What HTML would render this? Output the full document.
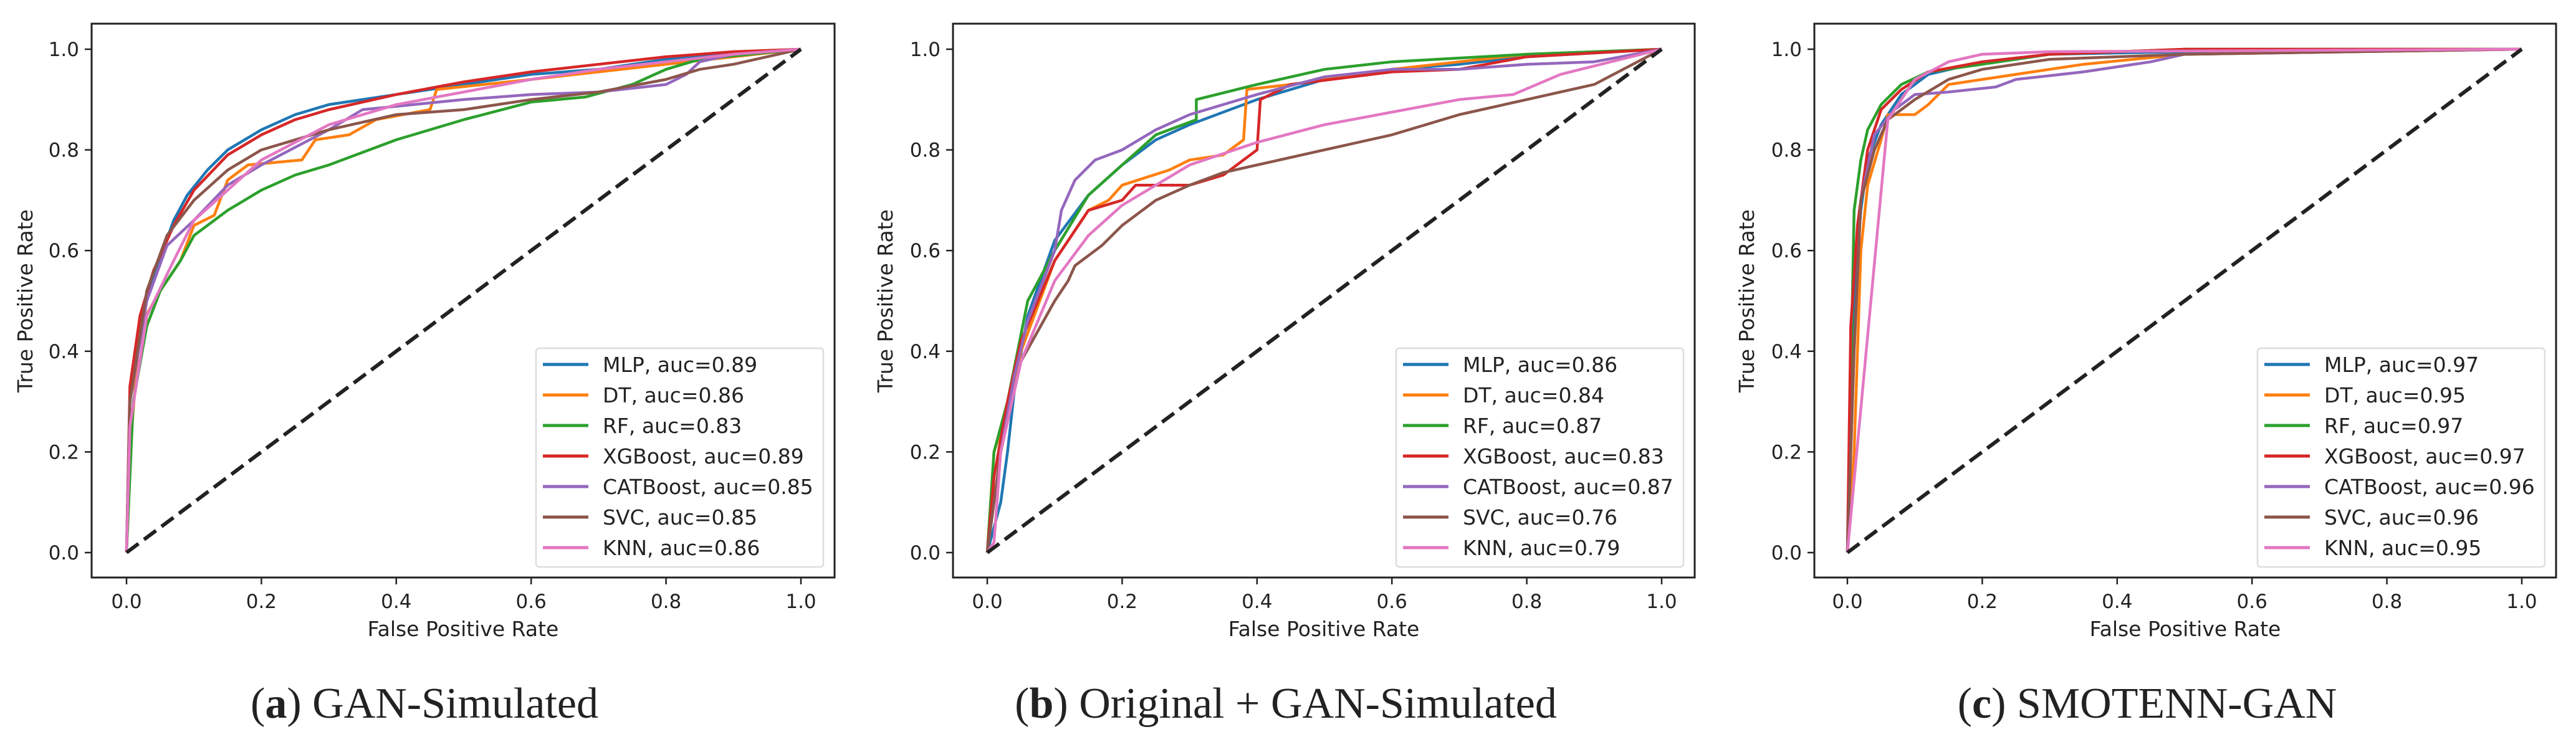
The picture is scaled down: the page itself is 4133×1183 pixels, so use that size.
<!DOCTYPE html>
<html><head><meta charset="utf-8"><style>
html,body{margin:0;padding:0;background:#fff;}
svg{display:block;}
</style></head><body>
<svg id="fig" width="4133" height="1183" xmlns="http://www.w3.org/2000/svg"></svg>
<script>
const seriesNames = ["MLP","DT","RF","XGBoost","CATBoost","SVC","KNN"];
const seriesColors = ["#1f77b4","#ff7f0e","#2ca02c","#d62728","#9467bd","#8c564b","#e377c2"];
const tickLabels = ["0.0","0.2","0.4","0.6","0.8","1.0"];
const tickValues = [0,0.2,0.4,0.6,0.8,1.0];

const aucA = ["0.89","0.86","0.83","0.89","0.85","0.85","0.86"];
const aucB = ["0.86","0.84","0.87","0.83","0.87","0.76","0.79"];
const aucC = ["0.97","0.95","0.97","0.97","0.96","0.96","0.95"];

const rocA = [
 [[0,0],[0.005,0.3],[0.02,0.45],[0.04,0.55],[0.07,0.66],[0.09,0.71],[0.12,0.76],[0.15,0.8],[0.2,0.84],[0.25,0.87],[0.3,0.89],[0.4,0.91],[0.5,0.93],[0.6,0.95],[0.7,0.96],[0.8,0.98],[0.9,0.99],[1,1]],
 [[0,0],[0.005,0.2],[0.02,0.45],[0.05,0.52],[0.08,0.58],[0.1,0.65],[0.13,0.67],[0.15,0.74],[0.18,0.77],[0.26,0.78],[0.28,0.82],[0.33,0.83],[0.37,0.86],[0.45,0.88],[0.46,0.92],[0.6,0.94],[0.8,0.97],[1,1]],
 [[0,0],[0.01,0.3],[0.03,0.45],[0.05,0.52],[0.08,0.58],[0.1,0.63],[0.15,0.68],[0.2,0.72],[0.25,0.75],[0.3,0.77],[0.4,0.82],[0.5,0.86],[0.6,0.895],[0.68,0.905],[0.75,0.93],[0.8,0.96],[0.85,0.98],[1,1]],
 [[0,0],[0.005,0.33],[0.02,0.47],[0.04,0.56],[0.07,0.65],[0.1,0.72],[0.15,0.79],[0.2,0.83],[0.25,0.86],[0.3,0.88],[0.4,0.91],[0.5,0.935],[0.6,0.955],[0.7,0.97],[0.8,0.985],[0.9,0.995],[1,1]],
 [[0,0],[0.005,0.3],[0.03,0.5],[0.06,0.61],[0.1,0.66],[0.15,0.73],[0.2,0.77],[0.3,0.84],[0.35,0.88],[0.5,0.9],[0.6,0.91],[0.7,0.915],[0.8,0.93],[0.83,0.95],[0.85,0.975],[0.9,0.99],[1,1]],
 [[0,0],[0.005,0.3],[0.03,0.52],[0.06,0.63],[0.1,0.7],[0.15,0.76],[0.2,0.8],[0.3,0.84],[0.4,0.87],[0.5,0.88],[0.6,0.9],[0.7,0.915],[0.8,0.94],[0.85,0.96],[0.9,0.97],[1,1]],
 [[0,0],[0.005,0.25],[0.03,0.47],[0.07,0.58],[0.1,0.66],[0.15,0.72],[0.2,0.78],[0.3,0.85],[0.4,0.89],[0.5,0.915],[0.6,0.94],[0.7,0.96],[0.8,0.975],[0.9,0.99],[1,1]]
];
const rocB = [
 [[0,0],[0.01,0.05],[0.02,0.1],[0.03,0.2],[0.04,0.32],[0.06,0.47],[0.1,0.62],[0.15,0.71],[0.2,0.77],[0.25,0.82],[0.3,0.85],[0.4,0.9],[0.5,0.94],[0.6,0.96],[0.7,0.97],[0.8,0.985],[1,1]],
 [[0,0],[0.01,0.2],[0.03,0.28],[0.05,0.4],[0.1,0.58],[0.15,0.68],[0.18,0.7],[0.2,0.73],[0.27,0.76],[0.3,0.78],[0.35,0.79],[0.38,0.82],[0.385,0.92],[0.45,0.93],[0.6,0.96],[0.8,0.99],[1,1]],
 [[0,0],[0.01,0.2],[0.03,0.3],[0.06,0.5],[0.1,0.6],[0.15,0.71],[0.2,0.77],[0.25,0.83],[0.31,0.86],[0.31,0.9],[0.4,0.93],[0.5,0.96],[0.6,0.975],[0.8,0.99],[1,1]],
 [[0,0],[0.01,0.15],[0.03,0.3],[0.05,0.42],[0.1,0.58],[0.15,0.68],[0.2,0.7],[0.22,0.73],[0.3,0.73],[0.35,0.75],[0.4,0.8],[0.405,0.9],[0.45,0.93],[0.6,0.955],[0.7,0.96],[0.8,0.985],[1,1]],
 [[0,0],[0.02,0.2],[0.04,0.35],[0.06,0.46],[0.1,0.6],[0.11,0.68],[0.13,0.74],[0.16,0.78],[0.2,0.8],[0.25,0.84],[0.3,0.87],[0.4,0.91],[0.5,0.945],[0.6,0.96],[0.7,0.96],[0.8,0.97],[0.9,0.975],[1,1]],
 [[0,0],[0.02,0.2],[0.05,0.38],[0.1,0.5],[0.12,0.54],[0.13,0.57],[0.17,0.61],[0.2,0.65],[0.25,0.7],[0.3,0.73],[0.35,0.755],[0.4,0.77],[0.5,0.8],[0.6,0.83],[0.7,0.87],[0.8,0.9],[0.9,0.93],[1,1]],
 [[0,0],[0.01,0.02],[0.02,0.2],[0.05,0.38],[0.1,0.54],[0.15,0.63],[0.2,0.69],[0.3,0.77],[0.4,0.815],[0.5,0.85],[0.6,0.875],[0.7,0.9],[0.78,0.91],[0.85,0.95],[1,1]]
];
const rocC = [
 [[0,0],[0.01,0.5],[0.02,0.68],[0.03,0.78],[0.05,0.85],[0.08,0.91],[0.12,0.95],[0.2,0.975],[0.3,0.99],[0.5,0.995],[1,1]],
 [[0,0],[0.01,0.2],[0.02,0.6],[0.03,0.73],[0.05,0.82],[0.06,0.87],[0.1,0.87],[0.12,0.89],[0.15,0.93],[0.2,0.94],[0.25,0.95],[0.35,0.97],[0.5,0.99],[1,1]],
 [[0,0],[0.01,0.68],[0.02,0.78],[0.03,0.84],[0.05,0.89],[0.08,0.93],[0.12,0.955],[0.2,0.97],[0.3,0.99],[0.5,1],[1,1]],
 [[0,0],[0.005,0.45],[0.015,0.65],[0.03,0.8],[0.05,0.88],[0.08,0.92],[0.12,0.955],[0.2,0.975],[0.3,0.99],[0.5,1],[1,1]],
 [[0,0],[0.01,0.4],[0.02,0.7],[0.04,0.83],[0.07,0.88],[0.1,0.91],[0.15,0.915],[0.22,0.925],[0.25,0.94],[0.35,0.955],[0.45,0.975],[0.5,0.99],[1,1]],
 [[0,0],[0.01,0.4],[0.02,0.7],[0.04,0.8],[0.06,0.86],[0.1,0.9],[0.15,0.94],[0.2,0.96],[0.3,0.98],[0.5,0.99],[1,1]],
 [[0,0],[0.06,0.86],[0.08,0.9],[0.1,0.94],[0.15,0.975],[0.2,0.99],[0.3,0.995],[1,1]]
];

const NS = "http://www.w3.org/2000/svg";
const svg = document.getElementById("fig");
function mk(tag, parent, attrs) {
  const e = document.createElementNS(NS, tag);
  for (const k in attrs) e.setAttribute(k, attrs[k]);
  parent.appendChild(e);
  return e;
}
const FONT = '"DejaVu Sans","Liberation Sans",sans-serif';

const panels = [
  {key:"a", left:147, right:1339, x0:203, x1:1285, roc:rocA, auc:aucA, yl:40, capX:681, cap:"GAN-Simulated"},
  {key:"b", left:1529, right:2719, x0:1584, x1:2666, roc:rocB, auc:aucB, yl:1420, capX:2063, cap:"Original + GAN-Simulated"},
  {key:"c", left:2911, right:4101, x0:2964, x1:4046, roc:rocC, auc:aucC, yl:2802, capX:3445, cap:"SMOTENN-GAN"}
];
const TOP=38, BOTTOM=927, Y0=887, Y1=79;

panels.forEach(p => {
  const g = mk("g", svg, {});
  
  
  const sx = v => p.x0 + v*(p.x1-p.x0);
  const sy = v => Y0 - v*(Y0-Y1);

  p.roc.forEach((pts, i) => {
    const d = pts.map((q,j)=>(j?"L":"M")+sx(q[0]).toFixed(1)+","+sy(q[1]).toFixed(1)).join(" ");
    const path = mk("path", g, {d:d, fill:"none", stroke:seriesColors[i], "stroke-width":4.5, "stroke-linejoin":"round"});
    
    
  });
  const diag = mk("line", g, {x1:sx(0), y1:sy(0), x2:sx(1), y2:sy(1), stroke:"#222", "stroke-width":6, "stroke-dasharray":"24,11"});
  
  

  const fr = mk("rect", g, {x:p.left, y:TOP, width:p.right-p.left, height:BOTTOM-TOP, fill:"none", stroke:"#222", "stroke-width":3});
  
  

  tickValues.forEach((v, i) => {
    mk("line", g, {x1:sx(v), y1:BOTTOM, x2:sx(v), y2:BOTTOM+11, stroke:"#222", "stroke-width":2.5});
    const tx = mk("text", g, {x:sx(v), y:BOTTOM+49, "font-family":FONT, "font-size":31, fill:"#222", "text-anchor":"middle"});
    tx.textContent = tickLabels[i];
    
    
    mk("line", g, {x1:p.left-11, y1:sy(v), x2:p.left, y2:sy(v), stroke:"#222", "stroke-width":2.5});
    const ty = mk("text", g, {x:p.left-20, y:sy(v)+11, "font-family":FONT, "font-size":31, fill:"#222", "text-anchor":"end"});
    ty.textContent = tickLabels[i];
    
    
  });

  const xt = mk("text", g, {x:(p.left+p.right)/2, y:1021, "font-family":FONT, "font-size":33, fill:"#222", "text-anchor":"middle"});
  xt.textContent = "False Positive Rate";
  
  
  const yx = p.yl+12;
  const yt = mk("text", g, {x:yx, y:483, "font-family":FONT, "font-size":33, fill:"#222", "text-anchor":"middle", transform:"rotate(-90 "+yx+" 483)"});
  yt.textContent = "True Positive Rate";
  
  

  const lg = mk("g", g, {});
  
  
  const lw = 461, lx = p.right - 18 - lw, ly = 559;
  mk("rect", lg, {x:lx, y:ly, width:lw, height:351, rx:5, fill:"#fff", "fill-opacity":0.9, stroke:"#ddd", "stroke-width":2.5});
  seriesNames.forEach((n, i) => {
    const yy = ly + 26 + i*49;
    const e = mk("g", lg, {});
    
    
    mk("line", e, {x1:lx+11, y1:yy, x2:lx+84, y2:yy, stroke:seriesColors[i], "stroke-width":5});
    const t = mk("text", e, {x:lx+107, y:yy+12, "font-family":FONT, "font-size":33, fill:"#222"});
    t.textContent = n + ", auc=" + p.auc[i];
  });

  const cap = mk("text", g, {x:p.capX, y:1152, "font-family":'"Liberation Serif",serif', "font-size":70, fill:"#222", "text-anchor":"middle"});
  
  
  const t1 = mk("tspan", cap, {}); t1.textContent = "(";
  const t2 = mk("tspan", cap, {"font-weight":"bold"}); t2.textContent = p.key;
  const t3 = mk("tspan", cap, {}); t3.textContent = ") " + p.cap;
});
</script>
</body></html>
